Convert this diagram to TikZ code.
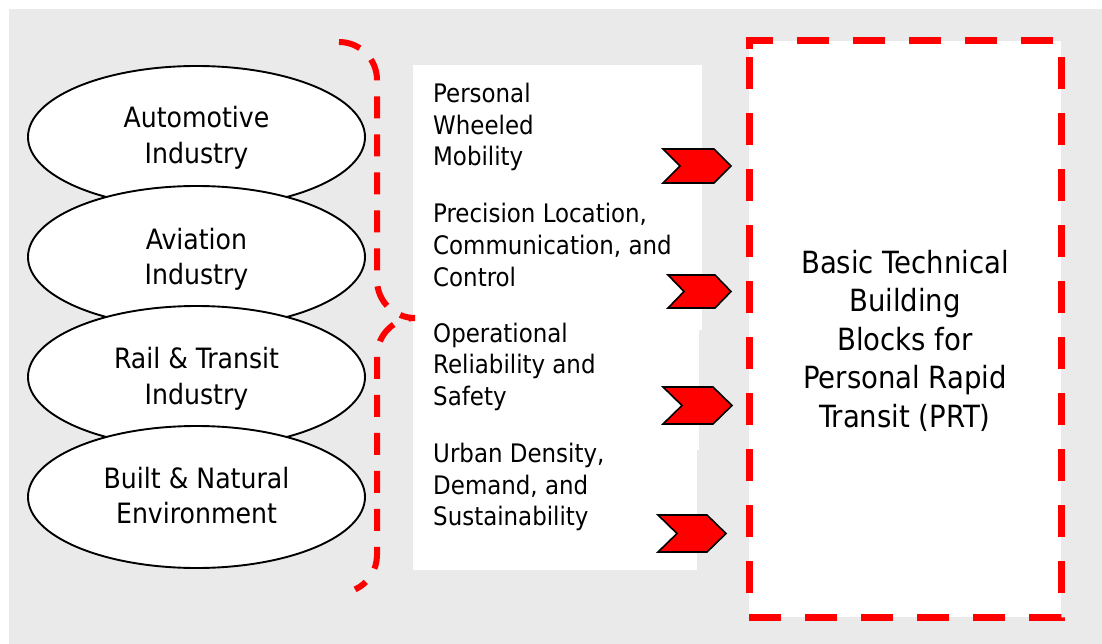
\documentclass[tikz,border=0pt]{standalone}
\usepackage{fontspec}
\setmainfont{DejaVu Sans Condensed}
\usetikzlibrary{shapes.geometric}
\definecolor{bggray}{HTML}{EAEAEA}
\definecolor{prtred}{HTML}{FF0000}
\newcommand\mychevron[6]{%
  \draw[chevron] (#1,#3) -- (#2-#5,#3) -- (#2,#3/2+#4/2) -- (#2-#5,#4) -- (#1,#4) -- (#1+#5,#3/2+#4/2) -- cycle;}
\begin{document}
\begin{tikzpicture}[x=1pt,y=-1pt,
  field/.style={ellipse, draw=black, line width=1.9pt, fill=white,
    minimum width=337pt, minimum height=142pt, inner sep=0pt},
  ftext/.style={font=\fontsize{28}{35.5}\selectfont, align=center, anchor=base, inner sep=0pt},
  mtext/.style={font=\fontsize{25.5}{31.5}\selectfont, align=left, anchor=base west, inner sep=0pt},
  rtext/.style={font=\fontsize{30.6}{38.5}\selectfont, align=center, anchor=base, inner sep=0pt},
  chevron/.style={fill=prtred, draw=black, line width=1.6pt, line join=miter},
  bracestyle/.style={draw=prtred, line width=6pt, dash pattern=on 22pt off 16pt},
  prtborder/.style={draw=prtred, line width=7pt, dash pattern=on 32pt off 24pt}]
\useasboundingbox (0,0) rectangle (1102,644);
% background
\fill[white] (0,0) rectangle (1102,644);
\fill[bggray] (9,9) rectangle (1102,644);
% white text panel
\fill[white] (413,65) rectangle (702,330);
\fill[white] (413,330) rectangle (699,450);
\fill[white] (413,450) rectangle (697,570);
% PRT box fill
\fill[white] (749,41) rectangle (1061,617);
% ellipses
\node[field] (e1) at (196.5,137) {};
\node[field] (e2) at (196.5,257) {};
\node[field] (e3) at (196.5,377) {};
\node[field] (e4) at (196.5,497) {};
\node[ftext] (t1) at (196.5,163.5) {Automotive\\Industry};
\node[ftext] (t2) at (196.5,284.5) {Aviation\\Industry};
\node[ftext] (t3) at (196.5,404) {Rail \& Transit\\Industry};
\node[ftext] (t4) at (196.5,523.5) {Built \& Natural\\Environment};
% brace
\draw[bracestyle] (339,42) .. controls (360,42) and (377,59) .. (377,80)
  -- (377,280) .. controls (377,301) and (394,318) .. (415,318)
  .. controls (394,318) and (377,335) .. (377,356)
  -- (377,555) .. controls (377,569.8) and (368.5,583.2) .. (355.1,589.4);
% middle texts
\node[mtext] (m1) at (433,166) {Personal\\Wheeled\\Mobility};
\node[mtext] (m2) at (433,286) {Precision Location,\\Communication, and\\Control};
\node[mtext] (m3) at (433,405) {Operational\\Reliability and\\Safety};
\node[mtext] (m4) at (433,525.5) {Urban Density,\\Demand, and\\Sustainability};
% chevrons
\mychevron{663}{731}{149}{183}{17}{}
\mychevron{668}{731}{275}{308}{16}{}
\mychevron{663}{732}{387}{424}{19}{}
\mychevron{658}{726}{515}{552}{19}{}
% PRT box border
\draw[prtborder] (749,49) -- (749,41) -- (1061,41) -- (1061,617) -- (749,617) -- cycle;
\node[rtext] (prt) at (905,427) {Basic Technical\\Building\\Blocks for\\Personal Rapid\\Transit (PRT)};
\end{tikzpicture}
\end{document}
